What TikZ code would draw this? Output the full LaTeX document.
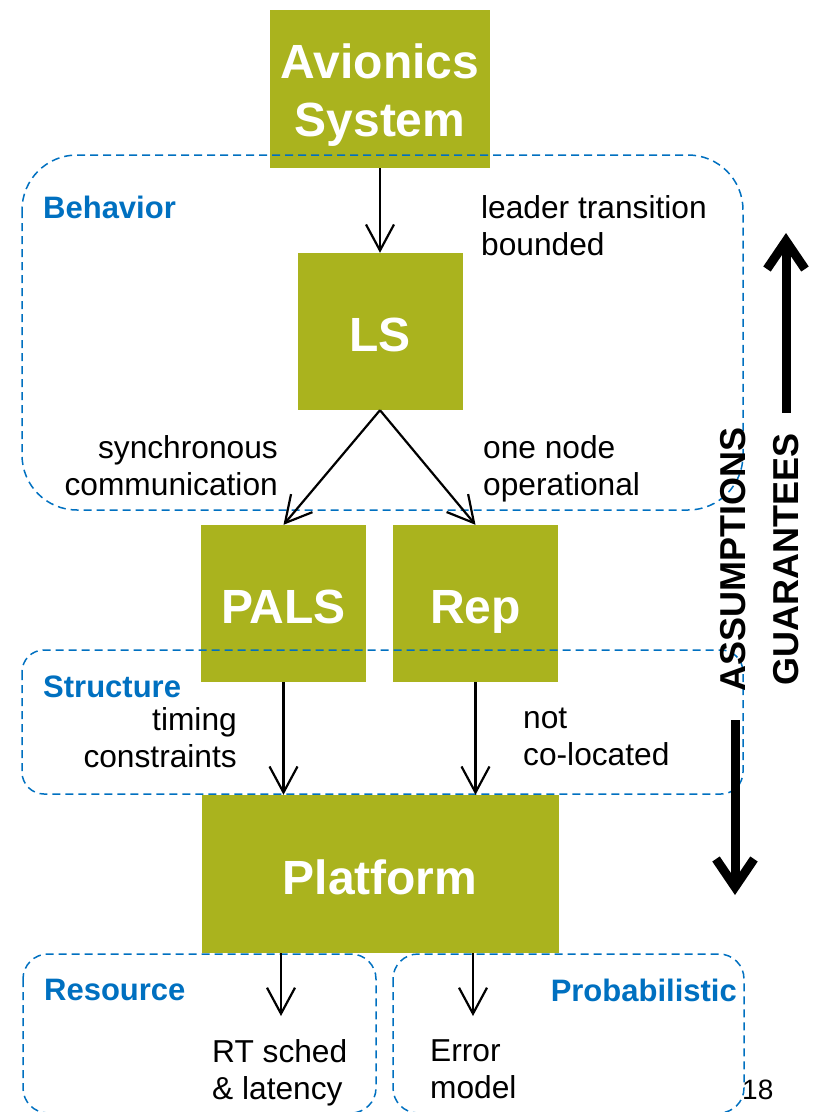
\documentclass[tikz,border=0pt]{standalone}
\usepackage{fontspec}
\setmainfont{Liberation Sans}
\usetikzlibrary{arrows.meta}
\definecolor{boxolive}{RGB}{170,179,30}
\definecolor{regblue}{RGB}{0,112,192}

\begin{document}
\begin{tikzpicture}[x=1pt, y=-1pt,
	block/.style = {fill=boxolive, text=white, font=\fontsize{48}{58}\selectfont\bfseries, align=center, inner sep=0pt},
	oneline/.style = {text height=40pt, text depth=0pt},
	region/.style = {draw=regblue, line width=1.5pt, dash pattern=on 8pt off 5pt},
	tag/.style = {text=regblue, font=\fontsize{31}{37}\selectfont\bfseries, inner sep=0pt},
	note/.style = {font=\fontsize{31.7}{37}\selectfont, inner sep=0pt},
	side/.style = {font=\fontsize{36}{43}\selectfont\bfseries, rotate=90, inner sep=0pt},
	flow/.style = {line width=2.2pt, -{Straight Barb[length=26pt,width=28pt]}},
	big/.style = {line width=9pt, -{Straight Barb[length=28pt,width=38pt]}}]
		\useasboundingbox (0,0) rectangle (812,1112);
		\clip (0,0) rectangle (812,1112);
		
		\node (sys) at (380,89) [block, minimum width=220pt, minimum height=158pt] {\rule{0pt}{47pt}Avionics\\System};
		\node (ls) at (380,331.5) [block, oneline, minimum width=165pt, minimum height=157pt] {LS};
		\node (pals) at (283.5,603.5) [block, oneline, minimum width=165pt, minimum height=157pt] {PALS};
		\node (rep) at (475.5,603.5) [block, oneline, minimum width=165pt, minimum height=157pt] {Rep};
		\node (plat) at (380,874) [block, oneline, minimum width=357pt, minimum height=158pt] {Platform};
		
		\draw [region, rounded corners=55pt] (22,155) rectangle (743,510);
		\draw [region, rounded corners=22pt] (22,650) rectangle (743,794);
		\draw [region, rounded corners=25pt] (23,954) rectangle (376,1113);
		\draw [region, rounded corners=25pt] (393,954) rectangle (744,1113);
		
		\node (behav) at (43,207) [tag, anchor=west] {Behavior};
		\node (struct) at (43,687) [tag, anchor=west] {Structure};
		\node (res) at (44,990) [tag, anchor=west] {Resource};
		\node (prob) at (737,990) [tag, anchor=east] {Probabilistic};
		
		\node (lead) at (481,195) [note, anchor=north west, align=left] {leader transition\\bounded};
		\node (sync) at (278,435) [note, anchor=north east, align=right] {synchronous\\communication};
		\node (oper) at (483,435) [note, anchor=north west, align=left] {one node\\operational};
		\node (timing) at (237,707) [note, anchor=north east, align=right] {timing\\constraints};
		\node (coloc) at (523,708) [note, anchor=north west, align=left] {not\\co-located};
		\node (rt) at (212,1039) [note, anchor=north west, align=left] {RT sched\\\& latency};
		\node (err) at (430,1039) [note, anchor=north west, align=left] {Error\\model};
		\node (page) at (742,1090) [anchor=west, inner sep=0pt, font=\fontsize{28}{34}\selectfont] {18};
		
		\node (assum) at (733,559) [side] {ASSUMPTIONS};
		\node (guar) at (786,559) [side] {GUARANTEES};
		
		\draw [flow] (sys) -- (ls);
		\draw [flow] (ls.south) -- (pals.north);
		\draw [flow] (ls.south) -- (rep.north);
		\draw [flow] (pals) -- (pals |- plat.north);
		\draw [flow] (rep) -- (rep |- plat.north);
		
		\coordinate (rtin) at (281,1016);
		\coordinate (errin) at (473,1016);
		\draw [flow] (plat.south -| rtin) -- (rtin);
		\draw [flow] (plat.south -| errin) -- (errin);
		
		\coordinate (gtip) at (786,233);
		\coordinate (atip) at (735,895);
		\draw [big, shorten <=20pt] (gtip |- guar.east) -- (gtip);
		\draw [big, shorten <=29pt] (atip |- assum.west) -- (atip);
\end{tikzpicture}
\end{document}
